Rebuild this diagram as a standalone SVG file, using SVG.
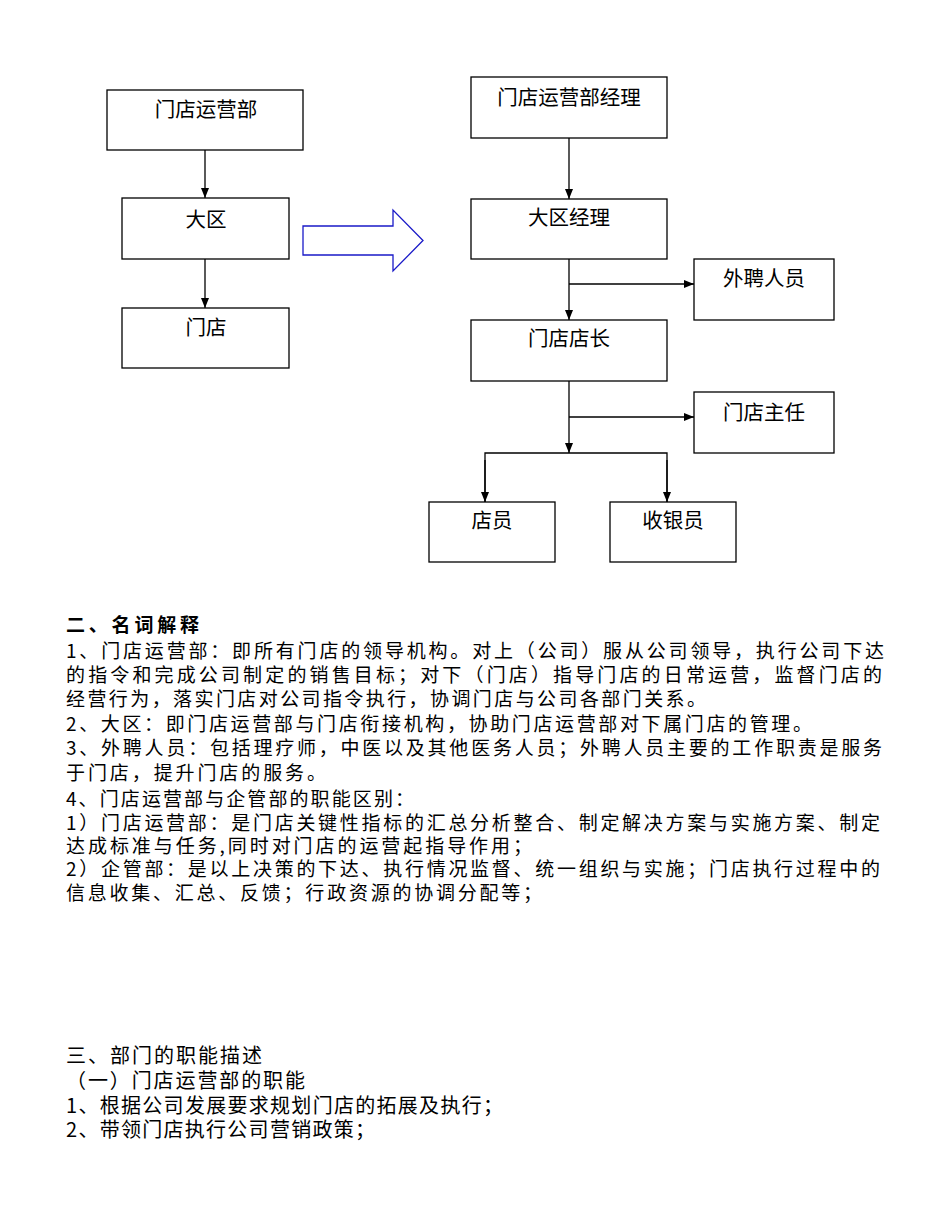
<svg xmlns="http://www.w3.org/2000/svg" width="950" height="1230" viewBox="0 0 950 1230">
<style>
.box{fill:#fff;stroke:#000;stroke-width:1.3}
.lbl{font-family:"Noto Sans CJK SC","Noto Sans",sans-serif;font-size:20.5px;fill:#000;text-anchor:middle}
.con{fill:none;stroke:#000;stroke-width:1.3}
.txt{font-family:"Noto Sans CJK SC","Noto Sans",sans-serif;font-size:19px;fill:#000}
.txt2{font-family:"Noto Sans CJK SC","Noto Sans",sans-serif;font-size:20px;fill:#000}
</style>
<defs>
<marker id="ah" markerUnits="userSpaceOnUse" markerWidth="10" markerHeight="10" viewBox="0 0 10 10" refX="10" refY="5" orient="auto">
<path d="M0,1 L10,5 L0,9 Z" fill="#000"/>
</marker>
</defs>
<rect width="950" height="1230" fill="#fff"/>
<g id="connectors">
<line class="con" x1="205" y1="150" x2="205" y2="198" marker-end="url(#ah)"/>
<line class="con" x1="205" y1="259" x2="205" y2="308" marker-end="url(#ah)"/>
<polygon points="303,226 393,226 393,210 423,240.5 393,271 393,255 303,255" fill="#fff" stroke="#1a1ac8" stroke-width="1.3"/>
<line class="con" x1="569" y1="138" x2="569" y2="199" marker-end="url(#ah)"/>
<line class="con" x1="569" y1="259" x2="569" y2="320" marker-end="url(#ah)"/>
<line class="con" x1="569" y1="284" x2="694" y2="284" marker-end="url(#ah)"/>
<line class="con" x1="569" y1="381" x2="569" y2="453" marker-end="url(#ah)"/>
<line class="con" x1="569" y1="417" x2="694" y2="417" marker-end="url(#ah)"/>
<polyline class="con" points="485,502 485,453 667,453 667,502"/>
<line class="con" x1="485" y1="460" x2="485" y2="502" marker-end="url(#ah)"/>
<line class="con" x1="667" y1="460" x2="667" y2="502" marker-end="url(#ah)"/>
</g>
<g id="n-yunyingbu"><rect class="box" x="107" y="90" width="196" height="60"/><text class="lbl" x="206" y="117">门店运营部</text></g>
<g id="n-daqu"><rect class="box" x="122" y="198" width="167" height="61"/><text class="lbl" x="206" y="227">大区</text></g>
<g id="n-mendian"><rect class="box" x="122" y="308" width="167" height="60"/><text class="lbl" x="206" y="335">门店</text></g>
<g id="n-jingli"><rect class="box" x="471" y="77" width="196" height="61"/><text class="lbl" x="569" y="105">门店运营部经理</text></g>
<g id="n-daqujingli"><rect class="box" x="471" y="199" width="196" height="60"/><text class="lbl" x="569" y="225">大区经理</text></g>
<g id="n-waipin"><rect class="box" x="694" y="259" width="140" height="61"/><text class="lbl" x="764" y="286">外聘人员</text></g>
<g id="n-dianzhang"><rect class="box" x="471" y="320" width="196" height="61"/><text class="lbl" x="569" y="346">门店店长</text></g>
<g id="n-zhuren"><rect class="box" x="694" y="392" width="140" height="61"/><text class="lbl" x="764" y="420">门店主任</text></g>
<g id="n-dianyuan"><rect class="box" x="429" y="502" width="126" height="60"/><text class="lbl" x="492" y="528">店员</text></g>
<g id="n-shouyin"><rect class="box" x="610" y="502" width="126" height="60"/><text class="lbl" x="673" y="528">收银员</text></g>
<g id="text-body">
<text class="txt" x="66" y="632" font-weight="bold" textLength="133" lengthAdjust="spacing">二、名词解释</text>
<text class="txt" x="66" y="658" textLength="818" lengthAdjust="spacing">1、门店运营部：即所有门店的领导机构。对上（公司）服从公司领导，执行公司下达</text>
<text class="txt" x="66" y="682" textLength="816" lengthAdjust="spacing">的指令和完成公司制定的销售目标；对下（门店）指导门店的日常运营，监督门店的</text>
<text class="txt" x="66" y="706" textLength="640" lengthAdjust="spacing">经营行为，落实门店对公司指令执行，协调门店与公司各部门关系。</text>
<text class="txt" x="66" y="731" textLength="746" lengthAdjust="spacing">2、大区：即门店运营部与门店衔接机构，协助门店运营部对下属门店的管理。</text>
<text class="txt" x="66" y="755" textLength="816" lengthAdjust="spacing">3、外聘人员：包括理疗师，中医以及其他医务人员；外聘人员主要的工作职责是服务</text>
<text class="txt" x="66" y="780" textLength="260" lengthAdjust="spacing">于门店，提升门店的服务。</text>
<text class="txt" x="66" y="806" textLength="348" lengthAdjust="spacing">4、门店运营部与企管部的职能区别：</text>
<text class="txt" x="66" y="830" textLength="814" lengthAdjust="spacing">1）门店运营部：是门店关键性指标的汇总分析整合、制定解决方案与实施方案、制定</text>
<text class="txt" x="66" y="853" textLength="466" lengthAdjust="spacing">达成标准与任务,同时对门店的运营起指导作用；</text>
<text class="txt" x="66" y="876" textLength="814" lengthAdjust="spacing">2）企管部：是以上决策的下达、执行情况监督、统一组织与实施；门店执行过程中的</text>
<text class="txt" x="66" y="900" textLength="476" lengthAdjust="spacing">信息收集、汇总、反馈；行政资源的协调分配等；</text>
<text class="txt2" x="66" y="1063" textLength="196" lengthAdjust="spacing">三、部门的职能描述</text>
<text class="txt2" x="66" y="1088" textLength="239" lengthAdjust="spacing">（一）门店运营部的职能</text>
<text class="txt2" x="66" y="1113" textLength="437" lengthAdjust="spacing">1、根据公司发展要求规划门店的拓展及执行；</text>
<text class="txt2" x="66" y="1137" textLength="309" lengthAdjust="spacing">2、带领门店执行公司营销政策；</text>
</g>
</svg>
